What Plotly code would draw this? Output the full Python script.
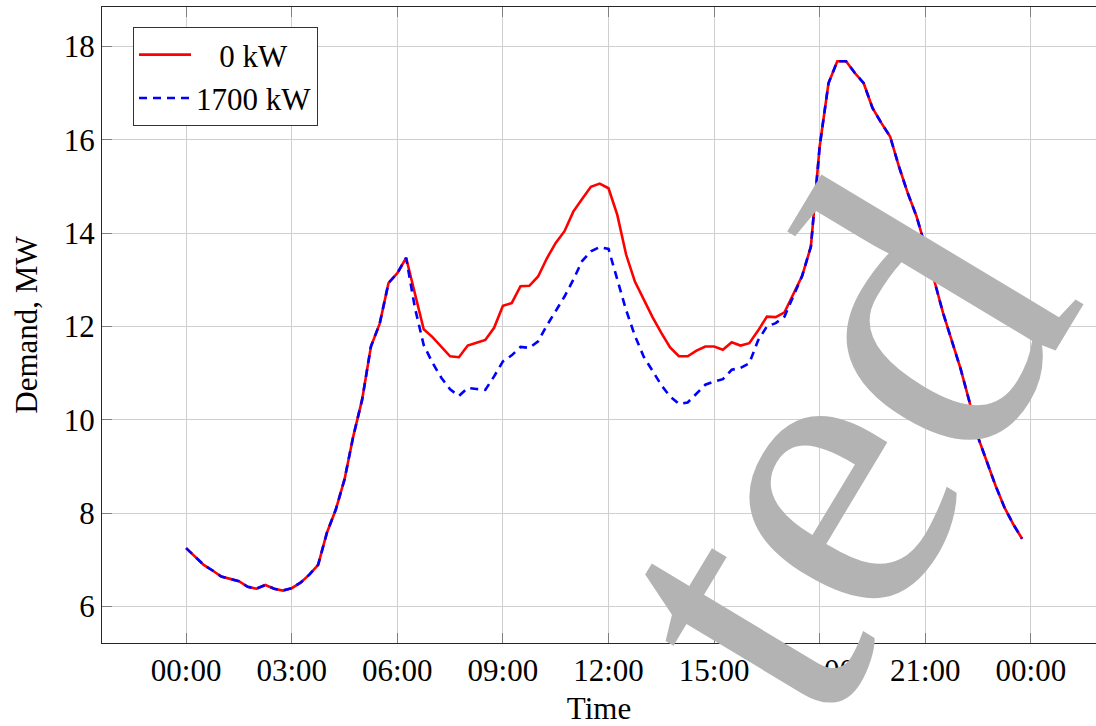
import plotly.graph_objects as go

# ---- data (15-minute resolution) ----
hours = [q / 4 for q in range(96)]

demand_0kw = [
    7.25, 7.06, 6.89, 6.77, 6.64, 6.59, 6.54, 6.42,
    6.38, 6.46, 6.38, 6.34, 6.39, 6.51, 6.68, 6.89,
    7.58, 8.07, 8.72, 9.65, 10.43, 11.57, 12.06, 12.93,
    13.14, 13.47, 12.70, 11.94, 11.77, 11.57, 11.36, 11.34,
    11.59, 11.65, 11.71, 11.97, 12.44, 12.50, 12.86, 12.87,
    13.07, 13.46, 13.79, 14.04, 14.46, 14.73, 14.99, 15.06,
    14.96, 14.39, 13.54, 12.96, 12.58, 12.20, 11.86, 11.55,
    11.36, 11.36, 11.48, 11.57, 11.57, 11.50, 11.66, 11.59,
    11.64, 11.91, 12.21, 12.20, 12.30, 12.68, 13.08, 13.71,
    15.86, 17.21, 17.68, 17.68, 17.43, 17.21, 16.68, 16.36,
    16.07, 15.43, 14.86, 14.36, 13.71, 13.00, 12.30, 11.70,
    11.10, 10.40, 9.62, 9.10, 8.58, 8.12, 7.76, 7.45,
]

demand_1700kw = [
    7.25, 7.06, 6.89, 6.77, 6.64, 6.59, 6.54, 6.42,
    6.38, 6.46, 6.38, 6.34, 6.39, 6.51, 6.68, 6.89,
    7.58, 8.07, 8.72, 9.65, 10.43, 11.57, 12.06, 12.93,
    13.14, 13.47, 12.40, 11.60, 11.22, 10.90, 10.65, 10.51,
    10.68, 10.66, 10.64, 10.93, 11.25, 11.38, 11.56, 11.54,
    11.68, 12.02, 12.32, 12.64, 13.00, 13.40, 13.61, 13.70,
    13.66, 13.00, 12.35, 11.80, 11.35, 11.05, 10.74, 10.50,
    10.34, 10.37, 10.57, 10.75, 10.82, 10.87, 11.07, 11.11,
    11.21, 11.70, 12.00, 12.07, 12.21, 12.64, 13.08, 13.71,
    15.86, 17.21, 17.68, 17.68, 17.43, 17.21, 16.68, 16.36,
    16.07, 15.43, 14.86, 14.36, 13.71, 13.00, 12.30, 11.70,
    11.10, 10.40, 9.62, 9.10, 8.58, 8.12, 7.76, 7.45,
]

series_names = ["\u00a0\u00a0\u00a00 kW", "1700 kW"]
x_tick_vals = [0, 3, 6, 9, 12, 15, 18, 21, 24]
x_tick_text = ["00:00", "03:00", "06:00", "09:00", "12:00",
               "15:00", "18:00", "21:00", "00:00"]
y_tick_vals = [6, 8, 10, 12, 14, 16, 18]

FONT = "Liberation Serif"
W, H = 1096, 726
ML, MR, MT, MB = 102, 0, 7, 83

fig = go.Figure()
fig.add_trace(go.Scatter(
    x=hours, y=demand_0kw, mode="lines", name=series_names[0],
    line=dict(color="#ff0000", width=2.6),
))
fig.add_trace(go.Scatter(
    x=hours, y=demand_1700kw, mode="lines", name=series_names[1],
    line=dict(color="#0000ff", width=2.6, dash="8px,6px"),
))

pw, ph = W - ML - MR, H - MT - MB
def px2paper(px, py):
    return (px - ML) / pw, (H - MB - py) / ph

wx, wy = px2paper(832, 447)

fig.update_layout(
    width=W, height=H,
    margin=dict(l=ML, r=MR, t=MT, b=MB, pad=0),
    paper_bgcolor="white", plot_bgcolor="white",
    font=dict(family=FONT, size=31, color="black"),
    showlegend=True,
    legend=dict(
        x=px2paper(133, 0)[0], y=px2paper(0, 27)[1],
        xanchor="left", yanchor="top",
        bgcolor="white", bordercolor="#333333", borderwidth=1,
        font=dict(family=FONT, size=31, color="black"),
        tracegroupgap=0, itemwidth=52,
    ),
    xaxis=dict(
        range=[-2.39, 25.85],
        tickmode="array", tickvals=x_tick_vals, ticktext=x_tick_text,
        showgrid=True, gridcolor="#cfcfcf", gridwidth=1,
        zeroline=False,
        ticks="inside", ticklen=10, tickwidth=1, tickcolor="#808080",
        showline=True, linecolor="#262626", linewidth=1.2, mirror="ticks",
        tickfont=dict(family=FONT, size=31, color="black"),
        title=dict(text="Time", font=dict(family=FONT, size=31), standoff=11),
    ),
    yaxis=dict(
        range=[5.216, 18.844],
        tickmode="array", tickvals=y_tick_vals,
        showgrid=True, gridcolor="#cfcfcf", gridwidth=1,
        zeroline=False,
        ticks="inside", ticklen=10, tickwidth=1, tickcolor="#808080",
        showline=True, linecolor="#262626", linewidth=1.2, mirror=False,
        tickfont=dict(family=FONT, size=31, color="black"),
        title=dict(text="Demand, MW", font=dict(family=FONT, size=31), standoff=16),
    ),
    annotations=[dict(
        text="ted", xref="paper", yref="paper", x=wx, y=wy,
        xanchor="center", yanchor="middle", showarrow=False,
        textangle=-59,
        font=dict(family=FONT, size=420, color="#b3b3b3"),
    )],
)

fig.write_html("out.html")
